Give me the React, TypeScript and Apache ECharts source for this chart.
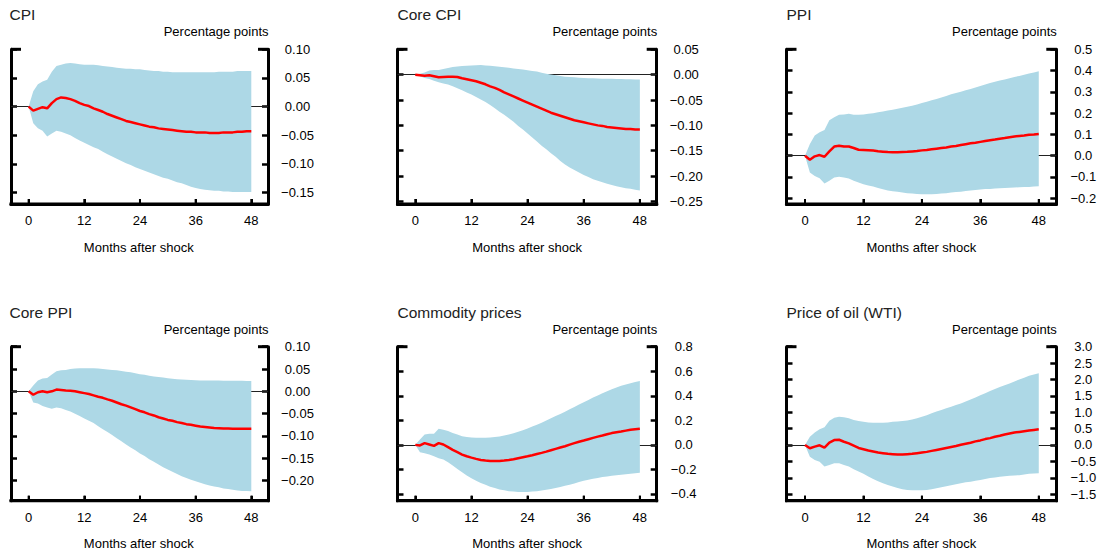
import React, { useEffect, useRef } from "react";
import * as echarts from "echarts";

// ---- Data (months after shock 0..48) ----
const months: number[] = Array.from({ length: 49 }, (_, i) => i);
const monthTicks = [0, 12, 24, 36, 48];

const cpiMedian = [
  0, -0.007, -0.004, -0.001, -0.003, 0.006, 0.013, 0.016, 0.015, 0.013, 0.010, 0.006,
  0.003, 0.001, -0.003, -0.006, -0.009, -0.013, -0.016, -0.019, -0.022, -0.025, -0.027, -0.029,
  -0.031, -0.033, -0.035, -0.036, -0.038, -0.039, -0.040, -0.041, -0.042, -0.043, -0.044, -0.044,
  -0.045, -0.045, -0.045, -0.046, -0.046, -0.046, -0.045, -0.045, -0.045, -0.044, -0.044, -0.043,
  -0.043,
];
const cpiUpper = [
  0, 0.027, 0.039, 0.044, 0.047, 0.061, 0.071, 0.073, 0.075, 0.076, 0.075, 0.074,
  0.073, 0.073, 0.073, 0.072, 0.071, 0.070, 0.069, 0.068, 0.067, 0.066, 0.066, 0.065,
  0.065, 0.064, 0.063, 0.062, 0.062, 0.061, 0.061, 0.060, 0.060, 0.060, 0.060, 0.060,
  0.060, 0.060, 0.060, 0.060, 0.060, 0.061, 0.061, 0.061, 0.061, 0.062, 0.062, 0.062,
  0.062,
];
const cpiLower = [
  0, -0.029, -0.038, -0.042, -0.052, -0.047, -0.042, -0.044, -0.047, -0.050, -0.055, -0.059,
  -0.063, -0.067, -0.071, -0.074, -0.079, -0.083, -0.087, -0.091, -0.095, -0.099, -0.102, -0.106,
  -0.109, -0.112, -0.115, -0.118, -0.121, -0.124, -0.126, -0.129, -0.132, -0.134, -0.137, -0.140,
  -0.142, -0.144, -0.145, -0.146, -0.147, -0.147, -0.148, -0.148, -0.149, -0.149, -0.149, -0.149,
  -0.149,
];

const coreCpiMedian = [
  0, -0.001, -0.002, -0.001, -0.003, -0.005, -0.0045, -0.004, -0.004, -0.0045, -0.007, -0.009,
  -0.011, -0.013, -0.016, -0.019, -0.023, -0.026, -0.030, -0.035, -0.039, -0.043, -0.047, -0.051,
  -0.055, -0.059, -0.063, -0.067, -0.071, -0.075, -0.078, -0.081, -0.084, -0.087, -0.090, -0.092,
  -0.094, -0.096, -0.098, -0.100, -0.101, -0.103, -0.104, -0.105, -0.106, -0.107, -0.107, -0.108,
  -0.108,
];
const coreCpiUpper = [
  0, 0.002, 0.0045, 0.008, 0.009, 0.009, 0.011, 0.013, 0.015, 0.016, 0.017, 0.0175,
  0.018, 0.0185, 0.019, 0.018, 0.0175, 0.0165, 0.0155, 0.0145, 0.0135, 0.012, 0.011, 0.010,
  0.0085, 0.007, 0.006, 0.004, 0.002, 0.0005, -0.001, -0.0025, -0.004, -0.0045, -0.005, -0.006,
  -0.0065, -0.007, -0.007, -0.0075, -0.008, -0.008, -0.008, -0.0085, -0.0085, -0.009, -0.009, -0.0095,
  -0.0095,
];
const coreCpiLower = [
  0, -0.003, -0.0065, -0.0085, -0.012, -0.015, -0.0175, -0.0195, -0.023, -0.027, -0.0305, -0.035,
  -0.039, -0.044, -0.049, -0.054, -0.060, -0.066, -0.073, -0.079, -0.086, -0.093, -0.101, -0.108,
  -0.116, -0.124, -0.132, -0.140, -0.147, -0.155, -0.162, -0.170, -0.177, -0.183, -0.188, -0.193,
  -0.198, -0.202, -0.206, -0.209, -0.212, -0.215, -0.2175, -0.220, -0.222, -0.224, -0.225, -0.227,
  -0.2285,
];

const ppiMedian = [
  0, -0.019, -0.003, 0.003, -0.005, 0.020, 0.043, 0.047, 0.043, 0.043, 0.036, 0.028,
  0.027, 0.026, 0.024, 0.021, 0.019, 0.017, 0.016, 0.016, 0.017, 0.018, 0.020, 0.022,
  0.025, 0.027, 0.030, 0.033, 0.036, 0.039, 0.043, 0.046, 0.050, 0.054, 0.058, 0.061,
  0.065, 0.069, 0.073, 0.076, 0.080, 0.083, 0.087, 0.090, 0.093, 0.095, 0.098, 0.100,
  0.1025,
];
const ppiUpper = [
  0, 0.055, 0.095, 0.110, 0.121, 0.166, 0.181, 0.192, 0.194, 0.197, 0.192, 0.192,
  0.194, 0.197, 0.200, 0.204, 0.208, 0.212, 0.216, 0.221, 0.2255, 0.230, 0.235, 0.241,
  0.248, 0.254, 0.260, 0.267, 0.274, 0.281, 0.289, 0.295, 0.301, 0.307, 0.314, 0.321,
  0.328, 0.335, 0.342, 0.347, 0.353, 0.358, 0.364, 0.370, 0.375, 0.380, 0.386, 0.391,
  0.397,
];
const ppiLower = [
  0, -0.079, -0.095, -0.106, -0.131, -0.118, -0.1025, -0.099, -0.1025, -0.107, -0.118, -0.126,
  -0.134, -0.140, -0.145, -0.152, -0.158, -0.163, -0.167, -0.170, -0.1735, -0.176, -0.178, -0.180,
  -0.181, -0.181, -0.181, -0.180, -0.178, -0.176, -0.1735, -0.171, -0.169, -0.166, -0.164, -0.161,
  -0.159, -0.157, -0.156, -0.154, -0.153, -0.152, -0.151, -0.150, -0.148, -0.147, -0.147, -0.145,
  -0.1435,
];

const corePpiMedian = [
  0, -0.0076, -0.002, 0, -0.002, 0, 0.004, 0.003, 0.002, 0.0015, 0, -0.002,
  -0.004, -0.006, -0.009, -0.012, -0.0145, -0.018, -0.021, -0.025, -0.029, -0.032, -0.036, -0.040,
  -0.044, -0.047, -0.051, -0.054, -0.058, -0.061, -0.064, -0.066, -0.069, -0.071, -0.0735, -0.075,
  -0.077, -0.079, -0.080, -0.081, -0.082, -0.0825, -0.083, -0.0835, -0.084, -0.084, -0.084, -0.084,
  -0.084,
];
const corePpiUpper = [
  0, 0.013, 0.024, 0.029, 0.030, 0.038, 0.045, 0.047, 0.048, 0.050, 0.051, 0.0515,
  0.052, 0.052, 0.0515, 0.051, 0.050, 0.049, 0.048, 0.047, 0.0455, 0.044, 0.0425, 0.0405,
  0.0385, 0.037, 0.035, 0.0335, 0.032, 0.031, 0.0295, 0.028, 0.027, 0.0265, 0.026, 0.0255,
  0.025, 0.0245, 0.024, 0.024, 0.024, 0.024, 0.0235, 0.0235, 0.0235, 0.0235, 0.0235, 0.023,
  0.023,
];
const corePpiLower = [
  0, -0.025, -0.027, -0.033, -0.036, -0.039, -0.036, -0.038, -0.042, -0.045, -0.050, -0.055,
  -0.061, -0.066, -0.071, -0.078, -0.085, -0.091, -0.098, -0.105, -0.112, -0.119, -0.126, -0.132,
  -0.139, -0.145, -0.152, -0.158, -0.164, -0.170, -0.175, -0.180, -0.185, -0.190, -0.194, -0.198,
  -0.2015, -0.205, -0.208, -0.211, -0.213, -0.215, -0.2175, -0.219, -0.2205, -0.222, -0.223, -0.2235,
  -0.224,
];

const commodityMedian = [
  0, -0.005, 0.014, 0.003, -0.008, 0.014, 0.003, -0.019, -0.041, -0.060, -0.079, -0.093,
  -0.104, -0.114, -0.123, -0.128, -0.131, -0.132, -0.131, -0.128, -0.123, -0.117, -0.109, -0.101,
  -0.093, -0.084, -0.074, -0.065, -0.055, -0.044, -0.033, -0.022, -0.011, 0.002, 0.014, 0.025,
  0.035, 0.046, 0.057, 0.067, 0.076, 0.086, 0.096, 0.103, 0.109, 0.116, 0.123, 0.127,
  0.131,
];
const commodityUpper = [
  0, 0.044, 0.085, 0.090, 0.090, 0.131, 0.123, 0.112, 0.096, 0.085, 0.071, 0.065,
  0.060, 0.058, 0.057, 0.058, 0.060, 0.064, 0.068, 0.076, 0.085, 0.095, 0.106, 0.120,
  0.134, 0.149, 0.164, 0.181, 0.199, 0.217, 0.235, 0.252, 0.270, 0.290, 0.309, 0.328,
  0.347, 0.366, 0.385, 0.402, 0.420, 0.437, 0.453, 0.467, 0.481, 0.492, 0.502, 0.512,
  0.521,
];
const commodityLower = [
  0, -0.060, -0.068, -0.079, -0.093, -0.109, -0.120, -0.142, -0.169, -0.197, -0.224, -0.249,
  -0.273, -0.292, -0.311, -0.326, -0.341, -0.352, -0.363, -0.370, -0.377, -0.381, -0.385, -0.385,
  -0.385, -0.381, -0.377, -0.372, -0.366, -0.359, -0.352, -0.343, -0.333, -0.324, -0.314, -0.303,
  -0.292, -0.284, -0.276, -0.269, -0.262, -0.257, -0.251, -0.247, -0.243, -0.239, -0.235, -0.231,
  -0.227,
];

const oilMedian = [
  0, -0.10, -0.05, -0.01, -0.08, 0.07, 0.15, 0.16, 0.10, 0.05, -0.02, -0.09,
  -0.13, -0.17, -0.20, -0.23, -0.25, -0.27, -0.28, -0.29, -0.29, -0.28, -0.27, -0.25,
  -0.23, -0.21, -0.18, -0.15, -0.12, -0.09, -0.06, -0.03, 0.01, 0.04, 0.07, 0.11,
  0.14, 0.18, 0.21, 0.25, 0.28, 0.32, 0.35, 0.38, 0.40, 0.42, 0.44, 0.46,
  0.48,
];
const oilUpper = [
  0, 0.25, 0.38, 0.48, 0.54, 0.74, 0.83, 0.86, 0.85, 0.82, 0.76, 0.73,
  0.71, 0.69, 0.68, 0.68, 0.68, 0.69, 0.71, 0.72, 0.73, 0.75, 0.78, 0.82,
  0.86, 0.91, 0.97, 1.02, 1.07, 1.12, 1.17, 1.22, 1.27, 1.33, 1.39, 1.45,
  1.52, 1.58, 1.65, 1.71, 1.77, 1.82, 1.88, 1.94, 2.00, 2.05, 2.11, 2.15,
  2.19,
];
const oilLower = [
  0, -0.36, -0.46, -0.51, -0.66, -0.61, -0.56, -0.56, -0.61, -0.66, -0.74, -0.81,
  -0.88, -0.96, -1.04, -1.11, -1.17, -1.22, -1.27, -1.31, -1.35, -1.37, -1.38, -1.38,
  -1.38, -1.37, -1.35, -1.32, -1.29, -1.26, -1.23, -1.20, -1.17, -1.14, -1.12, -1.09,
  -1.07, -1.04, -1.01, -0.99, -0.97, -0.95, -0.94, -0.93, -0.92, -0.90, -0.88, -0.87,
  -0.86,
];

// Tick labels (value axis)
const cpiTicks = [-0.15, -0.1, -0.05, 0, 0.05, 0.1];
const coreCpiTicks = [-0.25, -0.2, -0.15, -0.1, -0.05, 0, 0.05];
const ppiTicks = [-0.2, -0.1, 0, 0.1, 0.2, 0.3, 0.4, 0.5];
const corePpiTicks = [-0.2, -0.15, -0.1, -0.05, 0, 0.05, 0.1];
const commodityTicks = [-0.4, -0.2, 0, 0.2, 0.4, 0.6, 0.8];
const oilTicks = [-1.5, -1, -0.5, 0, 0.5, 1, 1.5, 2, 2.5, 3];

const titles = ["CPI", "Core CPI", "PPI", "Core PPI", "Commodity prices", "Price of oil (WTI)"];
const unitLabel = "Percentage points";
const xAxisTitle = "Months after shock";

const panels = [
  { median: cpiMedian, upper: cpiUpper, lower: cpiLower, ticks: cpiTicks, min: -0.17, max: 0.1, dec: 2 },
  { median: coreCpiMedian, upper: coreCpiUpper, lower: coreCpiLower, ticks: coreCpiTicks, min: -0.255, max: 0.05, dec: 2 },
  { median: ppiMedian, upper: ppiUpper, lower: ppiLower, ticks: ppiTicks, min: -0.227, max: 0.5, dec: 1 },
  { median: corePpiMedian, upper: corePpiUpper, lower: corePpiLower, ticks: corePpiTicks, min: -0.245, max: 0.1, dec: 2 },
  { median: commodityMedian, upper: commodityUpper, lower: commodityLower, ticks: commodityTicks, min: -0.455, max: 0.8, dec: 1 },
  { median: oilMedian, upper: oilUpper, lower: oilLower, ticks: oilTicks, min: -1.7, max: 3.0, dec: 1 },
];

// ---- Layout ----
const FONT = '"Liberation Sans", Arial, Helvetica, sans-serif';
const X_MIN = -3.8;
const X_MAX = 51.6;
const colLeft = [9.5, 397.5, 786.5];
const colWidth = [258.5, 259.2, 269.8];
const rowTop = [49.3, 346.7];
const rowHeight = [154.7, 154];
const titleY = [14.7, 312];
const unitY = [31.2, 329.5];
const xTitleY = [247, 543.5];

function fmt(v: number, dec: number) {
  const s = Math.abs(v).toFixed(dec);
  return v < -1e-9 ? "\u2212" + s : s;
}

export default function App() {
  const ref = useRef<HTMLDivElement>(null);
  useEffect(() => {
    if (!ref.current) return;
    const chart = echarts.init(ref.current, null, { renderer: "svg" });
    const grids: any[] = [];
    const xAxes: any[] = [];
    const yAxes: any[] = [];
    const series: any[] = [];
    const graphics: any[] = [];

    panels.forEach((p, i) => {
      const c = i % 3;
      const r = Math.floor(i / 3);
      const left = colLeft[c];
      const width = colWidth[c];
      const top = rowTop[r];
      const height = rowHeight[r];
      grids.push({ left, top, width, height, containLabel: false });
      xAxes.push({
        type: "value",
        gridIndex: i,
        position: "bottom",
        min: X_MIN,
        max: X_MAX,
        axisLine: { show: true, onZero: false, lineStyle: { color: "#000", width: 3 } },
        axisTick: { show: true, inside: true, length: 5, lineStyle: { color: "#000", width: 2 }, customValues: monthTicks },
        axisLabel: {
          show: true,
          customValues: monthTicks,
          formatter: (v: number) => String(v),
          margin: 10,
          fontSize: 13,
          color: "#000",
          fontFamily: FONT,
        },
        splitLine: { show: false },
      });
      yAxes.push({
        type: "value",
        gridIndex: i,
        position: "right",
        min: p.min,
        max: p.max,
        splitLine: { show: false },
        axisLine: { show: true, onZero: false, lineStyle: { color: "#000", width: 3 } },
        axisTick: { show: true, inside: true, length: 6, lineStyle: { color: "#000", width: 2.5 }, customValues: p.ticks },
        axisLabel: {
          customValues: p.ticks,
          formatter: (v: number) => fmt(v, p.dec),
          align: "center",
          margin: p.dec === 2 ? 29.5 : 27,
          fontSize: 13,
          color: "#000",
          fontFamily: FONT,
        },
      });
      yAxes.push({
        type: "value",
        gridIndex: i,
        position: "left",
        min: p.min,
        max: p.max,
        splitLine: { show: false },
        axisLine: { show: true, onZero: false, lineStyle: { color: "#000", width: 3 } },
        axisTick: { show: true, inside: true, length: 6, lineStyle: { color: "#000", width: 2.5 }, customValues: p.ticks },
        axisLabel: { show: true, customValues: p.ticks, formatter: () => "" },
      });
      const yIdx = 2 * i;
      series.push({
        type: "custom",
        xAxisIndex: i,
        yAxisIndex: yIdx,
        data: months.map((m, k) => [m, p.lower[k], p.upper[k]]),
        encode: { x: 0, y: [1, 2] },
        silent: true,
        z: 2,
        renderItem: (params: any, api: any) => {
          if (params.dataIndex !== 0) return null;
          const pts: number[][] = [];
          for (let k = 0; k < months.length; k++) pts.push(api.coord([months[k], p.upper[k]]));
          for (let k = months.length - 1; k >= 0; k--) pts.push(api.coord([months[k], p.lower[k]]));
          return { type: "polygon", shape: { points: pts }, style: { fill: "#ADD8E6" }, silent: true };
        },
      });
      series.push({
        type: "line",
        xAxisIndex: i,
        yAxisIndex: yIdx,
        data: months.map((m, k) => [m, p.median[k]]),
        symbol: "none",
        lineStyle: { color: "#FF0000", width: 2.5 },
        silent: true,
        z: 3,
        markLine: {
          silent: true,
          z: 1,
          symbol: "none",
          label: { show: false },
          lineStyle: { color: "#222", width: 1, type: "solid" },
          data: [{ yAxis: 0 }],
        },
      });
      graphics.push({
        type: "text",
        x: left,
        y: titleY[r],
        style: { text: titles[i], fontSize: 15.5, fontFamily: FONT, fill: "#222", align: "left", verticalAlign: "middle" },
      });
      graphics.push({
        type: "text",
        x: left + width + 0.5,
        y: unitY[r],
        style: { text: unitLabel, fontSize: 13, fontFamily: FONT, fill: "#000", align: "right", verticalAlign: "middle" },
      });
      graphics.push({
        type: "text",
        x: left + width / 2,
        y: xTitleY[r],
        style: { text: xAxisTitle, fontSize: 13, fontFamily: FONT, fill: "#000", align: "center", verticalAlign: "middle" },
      });
    });

    chart.setOption({
      animation: false,
      textStyle: { fontFamily: FONT },
      grid: grids,
      xAxis: xAxes,
      yAxis: yAxes,
      series,
    });

    // Bottom axis line, its inward ticks and the longer top stubs, placed through the chart's own scales
    const axisStroke = { stroke: "#000", lineWidth: 3 };
    panels.forEach((p, i) => {
      const finder = { xAxisIndex: i, yAxisIndex: 2 * i };
      const bl = chart.convertToPixel(finder, [X_MIN, p.min]) as number[];
      const br = chart.convertToPixel(finder, [X_MAX, p.min]) as number[];
      const tl = chart.convertToPixel(finder, [X_MIN, p.max]) as number[];
      const tr = chart.convertToPixel(finder, [X_MAX, p.max]) as number[];
      if (!bl || !br || !tl || !tr) return;
      graphics.push({
        type: "line",
        silent: true,
        z: 10,
        shape: { x1: bl[0] - 1.5, y1: bl[1], x2: br[0] + 1.5, y2: br[1] },
        style: axisStroke,
      });
      monthTicks.forEach((m) => {
        const pt = chart.convertToPixel(finder, [m, p.min]) as number[];
        graphics.push({
          type: "line",
          silent: true,
          z: 10,
          shape: { x1: pt[0], y1: pt[1], x2: pt[0], y2: pt[1] - 5 },
          style: { stroke: "#000", lineWidth: 2 },
        });
      });
      graphics.push({
        type: "line",
        silent: true,
        z: 10,
        shape: { x1: tl[0], y1: tl[1], x2: tl[0] + 10, y2: tl[1] },
        style: { stroke: "#000", lineWidth: 3 },
      });
      graphics.push({
        type: "line",
        silent: true,
        z: 10,
        shape: { x1: tr[0] - 10, y1: tr[1], x2: tr[0], y2: tr[1] },
        style: { stroke: "#000", lineWidth: 3 },
      });
    });

    chart.setOption({ graphic: graphics });
    return () => chart.dispose();
  }, []);
  return (
    <div
      ref={ref}
      style={{ position: "fixed", left: 0, top: 0, width: 1103, height: 556, background: "#fff" }}
    />
  );
}
